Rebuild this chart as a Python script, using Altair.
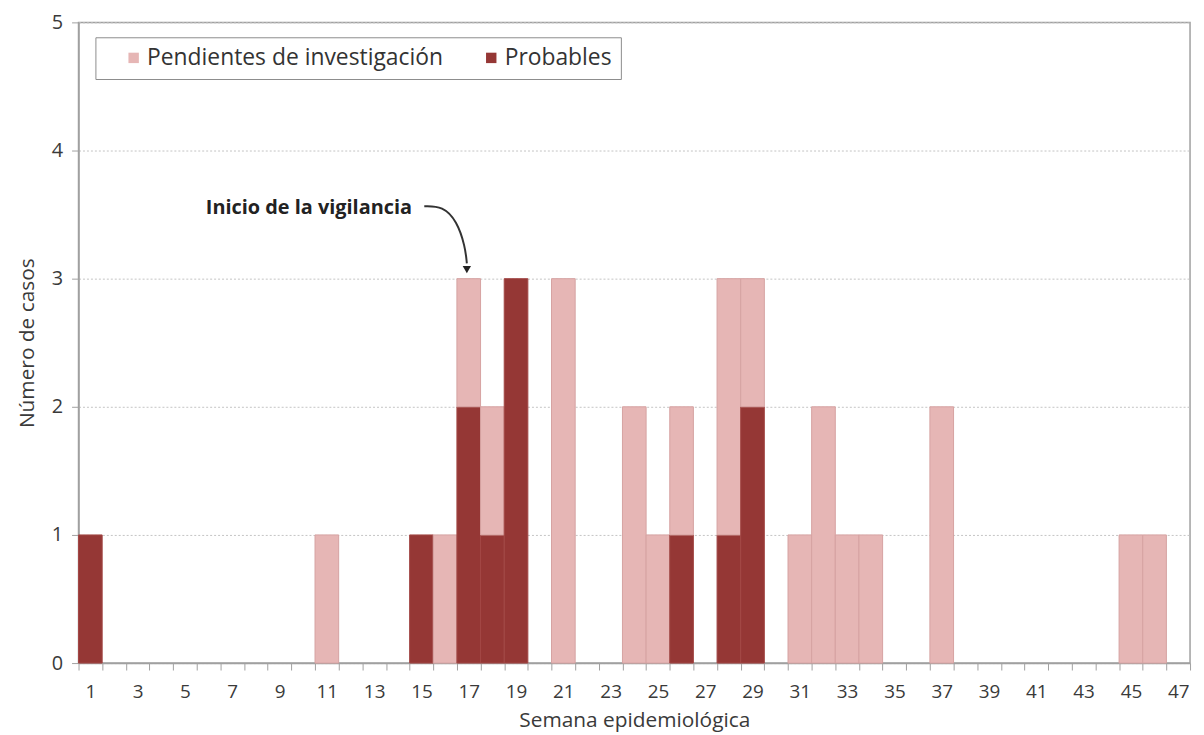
import altair as alt
import pandas as pd

weeks = list(range(1, 48))
probables = [1, 0, 0, 0, 0, 0, 0, 0, 0, 0,
             0, 0, 0, 0, 1, 0, 2, 1, 3, 0,
             0, 0, 0, 0, 0, 1, 0, 1, 2, 0,
             0, 0, 0, 0, 0, 0, 0, 0, 0, 0,
             0, 0, 0, 0, 0, 0, 0]
pendientes = [0, 0, 0, 0, 0, 0, 0, 0, 0, 0,
              1, 0, 0, 0, 0, 1, 1, 1, 0, 0,
              3, 0, 0, 2, 1, 1, 0, 2, 1, 0,
              1, 2, 1, 1, 0, 0, 2, 0, 0, 0,
              0, 0, 0, 0, 1, 1, 0]
series = ["Pendientes de investigación", "Probables"]
colors = ["#E6B6B5", "#953735"]
strokes = ["#D6A2A1", "#A24846"]
y_ticks = [0, 1, 2, 3, 4, 5]

# annotation (in week / case units)
ann_label = "Inicio de la vigilancia"
ann_text_pos = [14.6, 3.55]
arrow_x = [15.12, 15.9, 16.5, 16.85, 16.92]
arrow_y = [3.566, 3.566, 3.45, 3.25, 3.12]
arrow_head = [16.92, 3.07]

rows = []
for w, p, q in zip(weeks, probables, pendientes):
    if p:
        rows.append({"Semana": w, "Casos": p, "Serie": series[1], "orden": 0})
    if q:
        rows.append({"Semana": w, "Casos": q, "Serie": series[0], "orden": 1})
df = pd.DataFrame(rows)

yscale = alt.Scale(domain=[0, 5], nice=False)

bars = alt.Chart(df).mark_bar(strokeWidth=1).encode(
    x=alt.X("Semana:O",
            scale=alt.Scale(domain=weeks, paddingInner=0, paddingOuter=0),
            axis=alt.Axis(title="Semana epidemiológica", labelAngle=0,
                          tickBand="extent", grid=False,
                          labelExpr="datum.value % 2 == 1 ? datum.label : ''",
                          tickSize=7, labelPadding=13, labelFontSize=19,
                          titleFontSize=21, titlePadding=8)),
    y=alt.Y("Casos:Q", scale=yscale,
            axis=alt.Axis(title="Número de casos", values=y_ticks, format="d",
                          grid=True, gridDash=[2, 2], gridColor="#C4C4C4",
                          tickSize=7, labelPadding=9, labelFontSize=20,
                          titleFontSize=21, titlePadding=14)),
    color=alt.Color("Serie:N", scale=alt.Scale(domain=series, range=colors),
                    legend=alt.Legend(title=None, orient="none", legendX=17, legendY=15,
                                      direction="horizontal", symbolType="square",
                                      symbolSize=110, labelFontSize=23, labelLimit=0,
                                      labelFont="Open Sans", labelColor="#333",
                                      labelOffset=2, symbolOffset=18,
                                      strokeColor="#8C8C8C", padding=9,
                                      columnPadding=18, symbolStrokeWidth=0)),
    stroke=alt.Stroke("Serie:N", scale=alt.Scale(domain=series, range=strokes), legend=None),
    order=alt.Order("orden:Q"),
)

xq = alt.Scale(domain=[0.5, 47.5], nice=False, zero=False)

text = alt.Chart(pd.DataFrame({"pos": [ann_text_pos[0]], "Casos": [ann_text_pos[1]], "t": [ann_label]})).mark_text(
    align="right", baseline="middle", fontWeight="bold", fontSize=20, font="Open Sans", color="#222"
).encode(x=alt.X("pos:Q", scale=xq, axis=None), y=alt.Y("Casos:Q", scale=yscale), text="t:N")

arrow = alt.Chart(pd.DataFrame({"pos": arrow_x, "Casos": arrow_y})).mark_line(
    interpolate="basis", color="#333", strokeWidth=2
).encode(x=alt.X("pos:Q", scale=xq, axis=None), y=alt.Y("Casos:Q", scale=yscale))

head = alt.Chart(pd.DataFrame({"pos": [arrow_head[0]], "Casos": [arrow_head[1]]})).mark_point(
    shape="triangle-down", filled=True, size=70, color="#222", opacity=1
).encode(x=alt.X("pos:Q", scale=xq, axis=None), y=alt.Y("Casos:Q", scale=yscale))

chart = alt.layer(bars, text, arrow, head).resolve_scale(x="independent").properties(
    width=1119, height=645,
    padding={"left": 71, "top": 12, "right": 6, "bottom": 80},
    autosize=alt.AutoSizeParams(type="none"),
).configure_view(stroke="#A0A0A0", strokeWidth=1.5).configure_axis(
    domainColor="#A0A0A0", tickColor="#A0A0A0", labelColor="#3A3A3A",
    titleColor="#3A3A3A", labelFont="Open Sans", titleFont="Open Sans",
    titleFontWeight="normal", domainWidth=1.5
)

chart.save("out.html", embed_options={"renderer": "svg", "actions": False})
